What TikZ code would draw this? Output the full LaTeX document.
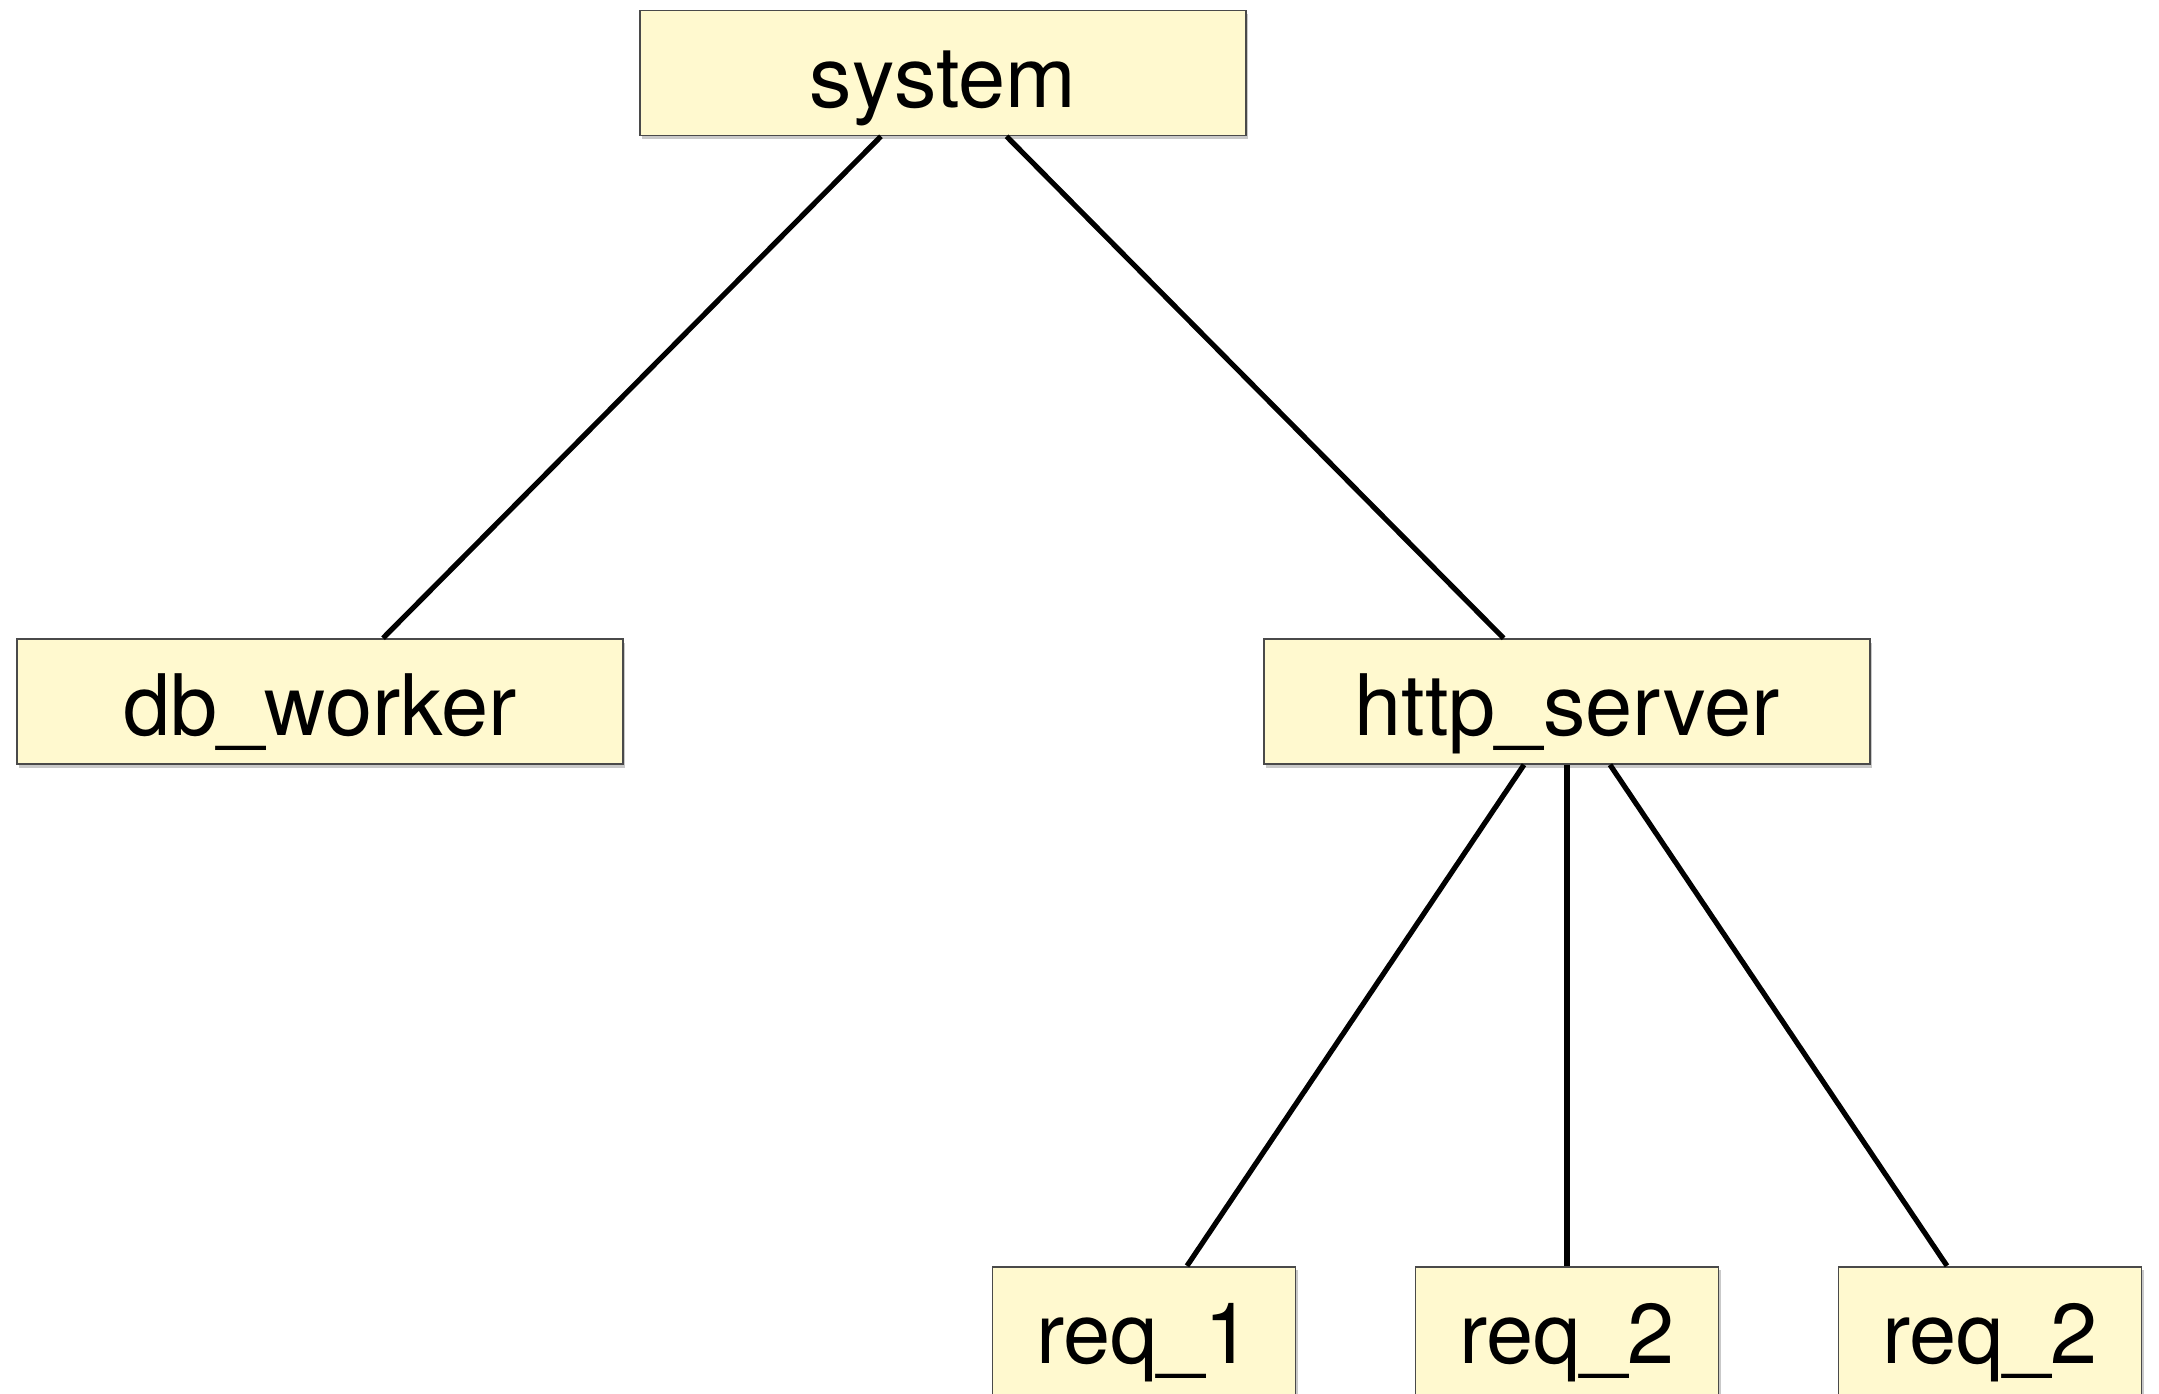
\documentclass[tikz,border=0pt]{standalone}
\usepackage{fontspec}
\setmainfont{TeX Gyre Heros}
\usetikzlibrary{calc,shadows}
\definecolor{boxfill}{HTML}{FFF9CF}
\definecolor{boxline}{HTML}{4A4A4A}
\begin{document}
\begin{tikzpicture}[x=0.25bp,y=-0.25bp,
  box/.style={draw=boxline, line width=0.4bp, fill=boxfill,
    minimum width=151.5bp, minimum height=31.25bp, inner sep=0pt,
    text height=17.2bp, text depth=0pt,
    font=\fontsize{21.2bp}{25bp}\selectfont,
    drop shadow={shadow xshift=0.5bp, shadow yshift=-0.9bp, opacity=0.3, fill=black!70}},
  smallbox/.style={box, minimum width=75.75bp, minimum height=33.75bp, text height=14.6bp},
  link/.style={line width=1.3bp, black}]
\useasboundingbox (0,0) rectangle (2159,1394);
\node[box] (sys) at (943,73) {system};
\node[box] (db) at (320,701.5) {db\_worker};
\node[box] (http) at (1567,701.5) {http\_server};
\node[smallbox] (r1) at (1144,1334.2) {req\_1};
\node[smallbox] (r2) at (1567,1334.2) {req\_2};
\node[smallbox] (r3) at (1990,1334.2) {req\_2};
\draw[link] ($(sys.south)+(-62,0)$) -- ($(db.north)+(63,0)$);
\draw[link] ($(sys.south)+(63.5,0)$) -- ($(http.north)+(-63.4,0)$);
\draw[link] ($(http.south)+(-43,0)$) -- ($(r1.north)+(43,0)$);
\draw[link] (http.south) -- (r2.north);
\draw[link] ($(http.south)+(43,0)$) -- ($(r3.north)+(-43,0)$);
\end{tikzpicture}
\end{document}
